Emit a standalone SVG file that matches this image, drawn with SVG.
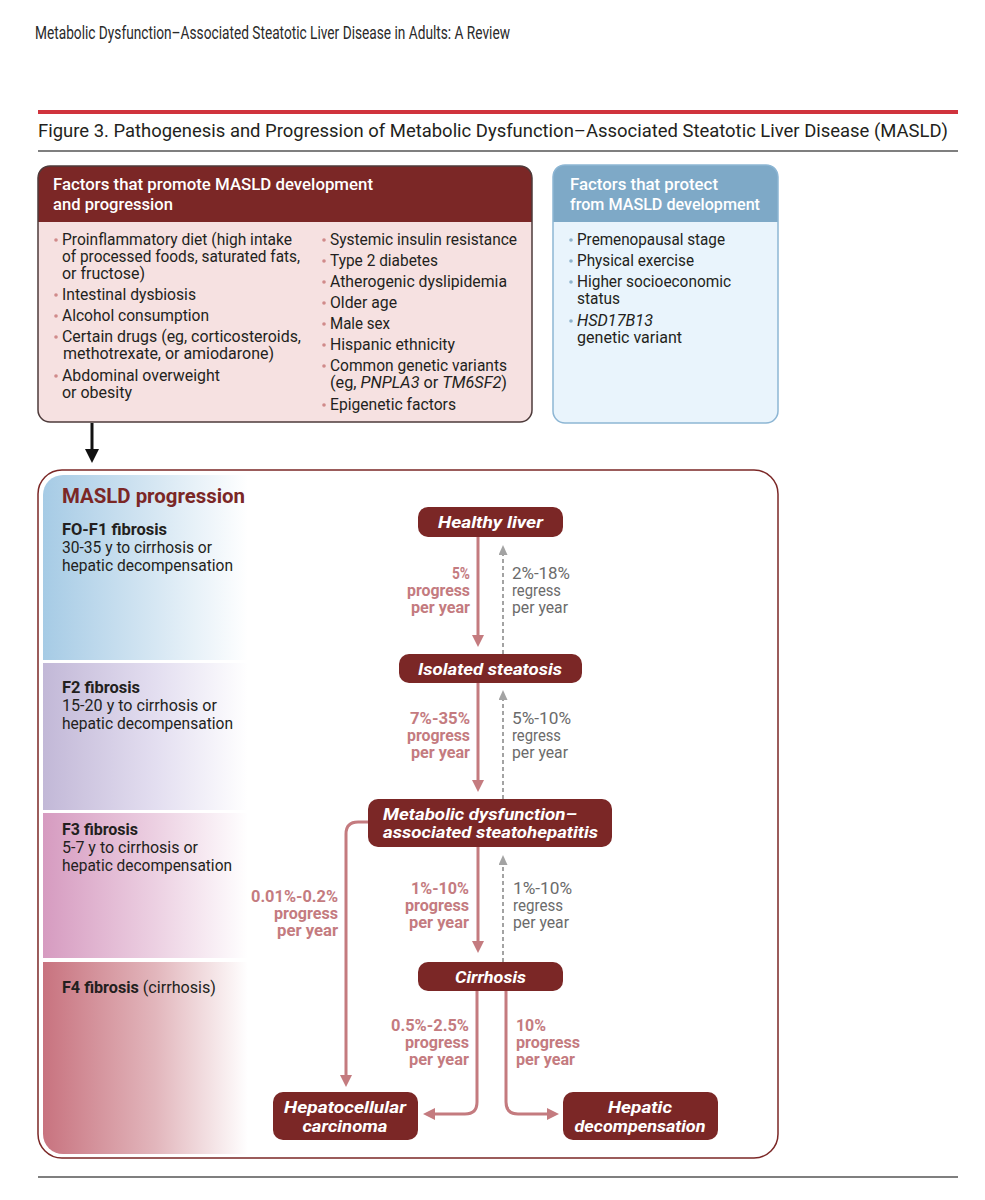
<svg xmlns="http://www.w3.org/2000/svg" width="985" height="1200" viewBox="0 0 985 1200">
<style>
text{font-family:Roboto,"Liberation Sans","DejaVu Sans",sans-serif;fill:#231f20}
.hdr{font-size:18px;fill:#2a2a2a}
.ttl{font-size:18px}
.bh{font-size:17px;font-weight:500;fill:#fff}
.body{font-size:16px}
.bn{font-size:16px;font-weight:700}
.mp{font-size:20px;font-weight:700;fill:#7b2726}
.node{font-size:17px;font-weight:700;font-style:italic;fill:#fff;text-anchor:middle}
.nl{font-size:17px;font-weight:700;font-style:italic;fill:#fff}
.prog{font-size:16px;font-weight:700;fill:#c47b7f;text-anchor:end}
.prog2{font-size:16px;font-weight:700;fill:#c47b7f}
.reg{font-size:16px;fill:#6b6b6b}
.nbox{fill:#7b2726}
.pl{fill:none;stroke:#c47b7f;stroke-width:3}
.dl{fill:none;stroke:#a3a3a3;stroke-width:2;stroke-dasharray:4 3}
.bulr{fill:#d08a8a}
.bulb{fill:#8fb3cc}
</style>
<defs>
<marker id="ar" markerUnits="userSpaceOnUse" markerWidth="12" markerHeight="12" refX="4" refY="6" orient="auto"><path d="M0,0 L12,6 L0,12 z" fill="#c47b7f"/></marker>
<marker id="ag" markerUnits="userSpaceOnUse" markerWidth="10" markerHeight="9" refX="3" refY="4.5" orient="auto"><path d="M0,0 L10,4.5 L0,9 z" fill="#a3a3a3"/></marker>
<marker id="ak" markerUnits="userSpaceOnUse" markerWidth="14" markerHeight="14" refX="4" refY="7" orient="auto"><path d="M0,0 L14,7 L0,14 z" fill="#111"/></marker>
<linearGradient id="g1" x1="0" x2="1" y1="0" y2="0"><stop offset="0" stop-color="#a6cbe5"/><stop offset="0.55" stop-color="#d6e7f3"/><stop offset="1" stop-color="#ffffff"/></linearGradient>
<linearGradient id="g2" x1="0" x2="1" y1="0" y2="0"><stop offset="0" stop-color="#c2b8d7"/><stop offset="0.55" stop-color="#e3def0"/><stop offset="1" stop-color="#ffffff"/></linearGradient>
<linearGradient id="g3" x1="0" x2="1" y1="0" y2="0"><stop offset="0" stop-color="#d69bc0"/><stop offset="0.55" stop-color="#ecd0e2"/><stop offset="1" stop-color="#ffffff"/></linearGradient>
<linearGradient id="g4" x1="0" x2="1" y1="0" y2="0"><stop offset="0" stop-color="#c8737f"/><stop offset="0.55" stop-color="#e2b6bc"/><stop offset="1" stop-color="#ffffff"/></linearGradient>
<clipPath id="inner"><rect x="43" y="475" width="730" height="679" rx="20"/></clipPath>
</defs>

<rect width="985" height="1200" fill="#fff"/>

<g id="page-header">
<text class="hdr" x="35" y="39" textLength="475" lengthAdjust="spacingAndGlyphs">Metabolic Dysfunction–Associated Steatotic Liver Disease in Adults: A Review</text>
<line x1="38" y1="112" x2="958" y2="112" stroke="#d0333d" stroke-width="4"/>
<text class="ttl" x="38" y="137" textLength="910" lengthAdjust="spacingAndGlyphs">Figure 3. Pathogenesis and Progression of Metabolic Dysfunction–Associated Steatotic Liver Disease (MASLD)</text>
<line x1="38" y1="151" x2="958" y2="151" stroke="#555" stroke-width="1.5"/>
<line x1="38" y1="1177" x2="958" y2="1177" stroke="#555" stroke-width="1.5"/>
</g>

<g id="promote-box">
<rect x="38" y="166" width="494" height="256" rx="12" fill="#f6e1e1"/>
<path d="M38,222 V178 Q38,166 50,166 H520 Q532,166 532,178 V222 Z" fill="#7b2726"/>
<rect x="38" y="166" width="494" height="256" rx="12" fill="none" stroke="#4e3b3b" stroke-width="1.5"/>
<text class="bh" x="53" y="190" textLength="320" lengthAdjust="spacingAndGlyphs">Factors that promote MASLD development</text>
<text class="bh" x="53" y="210" textLength="120" lengthAdjust="spacingAndGlyphs">and progression</text>
<g class="bulr">
<circle cx="56" cy="240" r="1.8"/><circle cx="56" cy="295" r="1.8"/><circle cx="56" cy="316" r="1.8"/><circle cx="56" cy="337" r="1.8"/><circle cx="56" cy="376" r="1.8"/>
<circle cx="324" cy="240" r="1.8"/><circle cx="324" cy="261" r="1.8"/><circle cx="324" cy="282" r="1.8"/><circle cx="324" cy="303" r="1.8"/><circle cx="324" cy="324" r="1.8"/><circle cx="324" cy="345" r="1.8"/><circle cx="324" cy="366" r="1.8"/><circle cx="324" cy="405" r="1.8"/>
</g>
<text class="body" x="62" y="245" textLength="230" lengthAdjust="spacingAndGlyphs">Proinflammatory diet (high intake</text>
<text class="body" x="62" y="262" textLength="238" lengthAdjust="spacingAndGlyphs">of processed foods, saturated fats,</text>
<text class="body" x="62" y="279" textLength="83" lengthAdjust="spacingAndGlyphs">or fructose)</text>
<text class="body" x="62" y="300" textLength="134" lengthAdjust="spacingAndGlyphs">Intestinal dysbiosis</text>
<text class="body" x="62" y="321" textLength="147" lengthAdjust="spacingAndGlyphs">Alcohol consumption</text>
<text class="body" x="62" y="342" textLength="239" lengthAdjust="spacingAndGlyphs">Certain drugs (eg, corticosteroids,</text>
<text class="body" x="63" y="359" textLength="211" lengthAdjust="spacingAndGlyphs">methotrexate, or amiodarone)</text>
<text class="body" x="62" y="381" textLength="158" lengthAdjust="spacingAndGlyphs">Abdominal overweight</text>
<text class="body" x="62" y="398" textLength="70" lengthAdjust="spacingAndGlyphs">or obesity</text>
<text class="body" x="330" y="245" textLength="187" lengthAdjust="spacingAndGlyphs">Systemic insulin resistance</text>
<text class="body" x="330" y="266" textLength="108" lengthAdjust="spacingAndGlyphs">Type 2 diabetes</text>
<text class="body" x="330" y="287" textLength="177" lengthAdjust="spacingAndGlyphs">Atherogenic dyslipidemia</text>
<text class="body" x="330" y="308" textLength="67" lengthAdjust="spacingAndGlyphs">Older age</text>
<text class="body" x="330" y="329" textLength="60" lengthAdjust="spacingAndGlyphs">Male sex</text>
<text class="body" x="330" y="350" textLength="125" lengthAdjust="spacingAndGlyphs">Hispanic ethnicity</text>
<text class="body" x="330" y="371" textLength="177" lengthAdjust="spacingAndGlyphs">Common genetic variants</text>
<text class="body" x="330" y="388" textLength="177" lengthAdjust="spacingAndGlyphs">(eg, <tspan font-style="italic">PNPLA3</tspan> or <tspan font-style="italic">TM6SF2</tspan>)</text>
<text class="body" x="330" y="410" textLength="126" lengthAdjust="spacingAndGlyphs">Epigenetic factors</text>
</g>

<g id="protect-box">
<rect x="553" y="165" width="225" height="258" rx="12" fill="#e9f4fc"/>
<path d="M553,222 V177 Q553,165 565,165 H766 Q778,165 778,177 V222 Z" fill="#7ea9c7"/>
<rect x="553" y="165" width="225" height="258" rx="12" fill="none" stroke="#8db6d4" stroke-width="1.5"/>
<text class="bh" x="570" y="190" textLength="148" lengthAdjust="spacingAndGlyphs">Factors that protect</text>
<text class="bh" x="570" y="210" textLength="190" lengthAdjust="spacingAndGlyphs">from MASLD development</text>
<g class="bulb">
<circle cx="571" cy="240" r="1.8"/><circle cx="571" cy="261" r="1.8"/><circle cx="571" cy="282" r="1.8"/><circle cx="571" cy="321" r="1.8"/>
</g>
<text class="body" x="577" y="245" textLength="148" lengthAdjust="spacingAndGlyphs">Premenopausal stage</text>
<text class="body" x="577" y="266" textLength="117" lengthAdjust="spacingAndGlyphs">Physical exercise</text>
<text class="body" x="577" y="287" textLength="154" lengthAdjust="spacingAndGlyphs">Higher socioeconomic</text>
<text class="body" x="577" y="304" textLength="43" lengthAdjust="spacingAndGlyphs">status</text>
<text class="body" x="577" y="326" font-style="italic" textLength="76" lengthAdjust="spacingAndGlyphs">HSD17B13</text>
<text class="body" x="577" y="343" textLength="105" lengthAdjust="spacingAndGlyphs">genetic variant</text>
</g>

<g id="progression-panel">
<rect x="38" y="470" width="740" height="688" rx="24" fill="#fff"/>
<g clip-path="url(#inner)">
<rect x="43" y="475" width="205" height="185" fill="url(#g1)"/>
<rect x="43" y="663" width="205" height="147" fill="url(#g2)"/>
<rect x="43" y="813" width="205" height="145" fill="url(#g3)"/>
<rect x="43" y="962" width="205" height="192" fill="url(#g4)"/>
</g>
<rect x="38" y="470" width="740" height="688" rx="24" fill="none" stroke="#7b2726" stroke-width="1.5"/>
<text class="mp" x="62" y="503" textLength="183" lengthAdjust="spacingAndGlyphs">MASLD progression</text>
<text class="bn" x="62" y="535" textLength="105" lengthAdjust="spacingAndGlyphs">FO-F1 fibrosis</text>
<text class="body" x="62" y="553" textLength="150" lengthAdjust="spacingAndGlyphs">30-35 y to cirrhosis or</text>
<text class="body" x="62" y="571" textLength="171" lengthAdjust="spacingAndGlyphs">hepatic decompensation</text>
<text class="bn" x="62" y="693" textLength="78" lengthAdjust="spacingAndGlyphs">F2 fibrosis</text>
<text class="body" x="62" y="711" textLength="155" lengthAdjust="spacingAndGlyphs">15-20 y to cirrhosis or</text>
<text class="body" x="62" y="729" textLength="171" lengthAdjust="spacingAndGlyphs">hepatic decompensation</text>
<text class="bn" x="62" y="835" textLength="76" lengthAdjust="spacingAndGlyphs">F3 fibrosis</text>
<text class="body" x="62" y="853" textLength="136" lengthAdjust="spacingAndGlyphs">5-7 y to cirrhosis or</text>
<text class="body" x="62" y="871" textLength="170" lengthAdjust="spacingAndGlyphs">hepatic decompensation</text>
<text class="body" x="62" y="993" textLength="154" lengthAdjust="spacingAndGlyphs"><tspan font-weight="700">F4 fibrosis</tspan> (cirrhosis)</text>
</g>

<g id="connectors">
<line x1="92" y1="423" x2="92" y2="453" stroke="#111" stroke-width="3" marker-end="url(#ak)"/>
<line class="pl" x1="478" y1="537" x2="478" y2="639" marker-end="url(#ar)"/>
<line class="dl" x1="503" y1="654" x2="503" y2="552" marker-end="url(#ag)"/>
<line class="pl" x1="478" y1="683" x2="478" y2="784" marker-end="url(#ar)"/>
<line class="dl" x1="503" y1="799" x2="503" y2="697" marker-end="url(#ag)"/>
<line class="pl" x1="478" y1="847" x2="478" y2="945" marker-end="url(#ar)"/>
<line class="dl" x1="503" y1="962" x2="503" y2="862" marker-end="url(#ag)"/>
<path class="pl" d="M369,822 H358 Q346,822 346,834 V1079" marker-end="url(#ar)"/>
<path class="pl" d="M477,991 V1102 Q477,1114 465,1114 H431" marker-end="url(#ar)"/>
<path class="pl" d="M506,991 V1102 Q506,1114 518,1114 H551" marker-end="url(#ar)"/>

<text class="prog" x="470" y="579" textLength="18" lengthAdjust="spacingAndGlyphs">5%</text>
<text class="prog" x="470" y="596" textLength="63" lengthAdjust="spacingAndGlyphs">progress</text>
<text class="prog" x="470" y="613" textLength="59" lengthAdjust="spacingAndGlyphs">per year</text>
<text class="reg" x="512" y="579" textLength="58" lengthAdjust="spacingAndGlyphs">2%-18%</text>
<text class="reg" x="512" y="596" textLength="49" lengthAdjust="spacingAndGlyphs">regress</text>
<text class="reg" x="512" y="613" textLength="56" lengthAdjust="spacingAndGlyphs">per year</text>

<text class="prog" x="470" y="724" textLength="60" lengthAdjust="spacingAndGlyphs">7%-35%</text>
<text class="prog" x="470" y="741" textLength="63" lengthAdjust="spacingAndGlyphs">progress</text>
<text class="prog" x="470" y="758" textLength="59" lengthAdjust="spacingAndGlyphs">per year</text>
<text class="reg" x="512" y="724" textLength="59" lengthAdjust="spacingAndGlyphs">5%-10%</text>
<text class="reg" x="512" y="741" textLength="49" lengthAdjust="spacingAndGlyphs">regress</text>
<text class="reg" x="512" y="758" textLength="56" lengthAdjust="spacingAndGlyphs">per year</text>

<text class="prog" x="469" y="894" textLength="58" lengthAdjust="spacingAndGlyphs">1%-10%</text>
<text class="prog" x="469" y="911" textLength="64" lengthAdjust="spacingAndGlyphs">progress</text>
<text class="prog" x="469" y="928" textLength="60" lengthAdjust="spacingAndGlyphs">per year</text>
<text class="reg" x="513" y="894" textLength="59" lengthAdjust="spacingAndGlyphs">1%-10%</text>
<text class="reg" x="513" y="911" textLength="50" lengthAdjust="spacingAndGlyphs">regress</text>
<text class="reg" x="513" y="928" textLength="56" lengthAdjust="spacingAndGlyphs">per year</text>

<text class="prog" x="338" y="902" textLength="87" lengthAdjust="spacingAndGlyphs">0.01%-0.2%</text>
<text class="prog" x="338" y="919" textLength="64" lengthAdjust="spacingAndGlyphs">progress</text>
<text class="prog" x="338" y="936" textLength="61" lengthAdjust="spacingAndGlyphs">per year</text>

<text class="prog" x="469" y="1031" textLength="78" lengthAdjust="spacingAndGlyphs">0.5%-2.5%</text>
<text class="prog" x="469" y="1048" textLength="64" lengthAdjust="spacingAndGlyphs">progress</text>
<text class="prog" x="469" y="1065" textLength="60" lengthAdjust="spacingAndGlyphs">per year</text>
<text class="prog2" x="516" y="1031" textLength="30" lengthAdjust="spacingAndGlyphs">10%</text>
<text class="prog2" x="516" y="1048" textLength="64" lengthAdjust="spacingAndGlyphs">progress</text>
<text class="prog2" x="516" y="1065" textLength="59" lengthAdjust="spacingAndGlyphs">per year</text>
</g>

<g id="node-healthy">
<rect class="nbox" x="418" y="507" width="145" height="30" rx="10"/>
<text class="node" x="490.5" y="528" textLength="105" lengthAdjust="spacingAndGlyphs">Healthy liver</text>
</g>
<g id="node-steatosis">
<rect class="nbox" x="399" y="654" width="183" height="29" rx="10"/>
<text class="node" x="490" y="675" textLength="144" lengthAdjust="spacingAndGlyphs">Isolated steatosis</text>
</g>
<g id="node-mash">
<rect class="nbox" x="368" y="799" width="244" height="48" rx="10"/>
<text class="nl" x="383" y="820" textLength="194" lengthAdjust="spacingAndGlyphs">Metabolic dysfunction–</text>
<text class="nl" x="383" y="838" textLength="215" lengthAdjust="spacingAndGlyphs">associated steatohepatitis</text>
</g>
<g id="node-cirrhosis">
<rect class="nbox" x="418" y="962" width="145" height="29" rx="10"/>
<text class="node" x="490.5" y="983" textLength="71" lengthAdjust="spacingAndGlyphs">Cirrhosis</text>
</g>
<g id="node-hcc">
<rect class="nbox" x="273" y="1092" width="145" height="48" rx="10"/>
<text class="node" x="345" y="1113" textLength="122" lengthAdjust="spacingAndGlyphs">Hepatocellular</text>
<text class="node" x="345" y="1132" textLength="85" lengthAdjust="spacingAndGlyphs">carcinoma</text>
</g>
<g id="node-decomp">
<rect class="nbox" x="563" y="1092" width="155" height="48" rx="10"/>
<text class="node" x="640" y="1113" textLength="64" lengthAdjust="spacingAndGlyphs">Hepatic</text>
<text class="node" x="640" y="1132" textLength="131" lengthAdjust="spacingAndGlyphs">decompensation</text>
</g>
</svg>
